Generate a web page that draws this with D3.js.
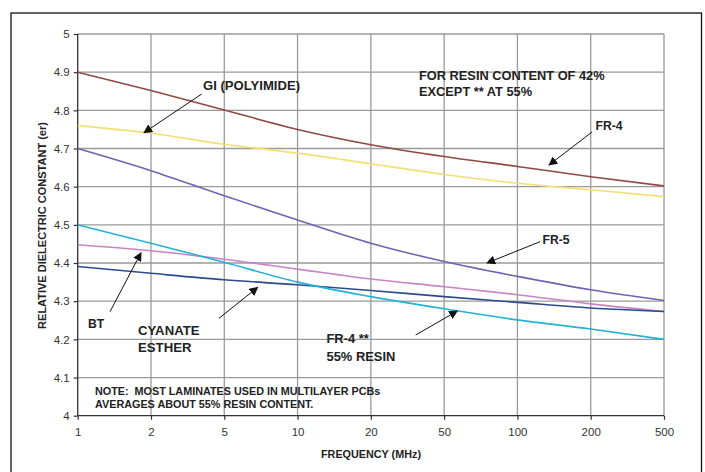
<!DOCTYPE html>
<html>
<head>
<meta charset="utf-8">
<script src="https://cdn.jsdelivr.net/npm/d3@7"></script>
<style>
  body { margin: 0; background: #fff; }
  svg { font-family: "Liberation Sans", Arial, sans-serif; }
</style>
</head>
<body>
<div id="main"></div>
<script>
var freqs = ["1", "2", "5", "10", "20", "50", "100", "200", "500"];
var yTicks = [4, 4.1, 4.2, 4.3, 4.4, 4.5, 4.6, 4.7, 4.8, 4.9, 5];

var fr4 = [4.9, 4.852, 4.801, 4.75, 4.71, 4.679, 4.653, 4.626, 4.602];
var gi = [4.76, 4.74, 4.711, 4.688, 4.66, 4.632, 4.609, 4.592, 4.574];
var fr5 = [4.7, 4.642, 4.576, 4.513, 4.452, 4.404, 4.365, 4.33, 4.302];
var fr4Resin55 = [4.5, 4.452, 4.402, 4.35, 4.312, 4.28, 4.251, 4.227, 4.2];
var bt = [4.448, 4.432, 4.41, 4.384, 4.358, 4.338, 4.317, 4.293, 4.273];
var cyanate = [4.391, 4.373, 4.356, 4.343, 4.328, 4.312, 4.297, 4.282, 4.273];

var series = [
    {name: "GI", values: gi, color: "#f2e070"},
    {name: "FR-4", values: fr4, color: "#8e4a42"},
    {name: "FR-5", values: fr5, color: "#7262b2"},
    {name: "BT", values: bt, color: "#c685c6"},
    {name: "CYANATE", values: cyanate, color: "#2b4b8c"},
    {name: "FR-4 55", values: fr4Resin55, color: "#22b2d2"}
];

var W = 705, H = 472;
var plotLeft = 77.7, plotRight = 664, plotTop = 34, plotBottom = 415.7;

var svg = d3.select("#main").append("svg")
    .attr("width", W).attr("height", H);

svg.append("defs").append("marker")
    .attr("id", "arrow")
    .attr("viewBox", "0 0 10 10")
    .attr("refX", 9).attr("refY", 5)
    .attr("markerWidth", 9).attr("markerHeight", 9)
    .attr("markerUnits", "userSpaceOnUse")
    .attr("orient", "auto")
    .append("path")
    .attr("d", "M0,0 L10,5 L0,10 z")
    .attr("fill", "#111");

// outer frame (bottom edge off the page)
svg.append("rect")
    .attr("x", 11).attr("y", 13)
    .attr("width", 690.5).attr("height", 480)
    .attr("fill", "none").attr("stroke", "#111").attr("stroke-width", 1.3);

var x = d3.scalePoint().domain(freqs).range([plotLeft, plotRight]);
var y = d3.scaleLinear().domain([4, 5]).range([plotBottom, plotTop]);

// grid
svg.append("g").selectAll("line").data(yTicks.slice(1)).enter().append("line")
    .attr("x1", plotLeft).attr("x2", plotRight)
    .attr("y1", function(d) { return y(d); }).attr("y2", function(d) { return y(d); })
    .attr("stroke", "#9a9a9a").attr("stroke-width", 1.3);
svg.append("g").selectAll("line").data(freqs.slice(1)).enter().append("line")
    .attr("x1", function(d) { return x(d); }).attr("x2", function(d) { return x(d); })
    .attr("y1", plotTop).attr("y2", plotBottom)
    .attr("stroke", "#9a9a9a").attr("stroke-width", 1.3);

// axes
var xAxis = svg.append("g")
    .attr("transform", "translate(0," + plotBottom + ")")
    .call(d3.axisBottom(x).tickSize(4).tickPadding(8));
var yAxis = svg.append("g")
    .attr("transform", "translate(" + plotLeft + ",0)")
    .call(d3.axisLeft(y).tickValues(yTicks).tickSize(4).tickPadding(4)
          .tickFormat(function(d) { return d3.format("")(+d.toFixed(1)); }));
[xAxis, yAxis].forEach(function(a) {
    a.select(".domain").attr("stroke", "#333").attr("stroke-width", 1.3);
    a.selectAll(".tick line").attr("stroke", "#333").attr("stroke-width", 1.2);
    a.selectAll("text").attr("fill", "#333").style("font-size", "11.5px")
        .style("font-family", "'Liberation Sans', Arial, sans-serif");
});
xAxis.select(".domain").attr("d", "M" + plotLeft + ",0H" + plotRight);
yAxis.select(".domain").attr("d", "M0," + plotBottom + "V" + plotTop);

// lines
var line = d3.line()
    .x(function(d, i) { return x(freqs[i]); })
    .y(function(d) { return y(d); })
    .curve(d3.curveMonotoneX);

svg.append("g").selectAll("path").data(series).enter().append("path")
    .attr("d", function(d) { return line(d.values); })
    .attr("fill", "none")
    .attr("stroke", function(d) { return d.color; })
    .attr("stroke-width", 1.6);

// axis titles
svg.append("text")
    .attr("x", 371).attr("y", 458)
    .attr("text-anchor", "middle")
    .style("font-size", "10.8px").style("font-weight", "bold")
    .attr("fill", "#222")
    .text("FREQUENCY (MHz)");
svg.append("text")
    .attr("transform", "translate(46,225.5) rotate(-90)")
    .attr("text-anchor", "middle")
    .style("font-size", "11px").style("font-weight", "bold")
    .attr("fill", "#222")
    .text("RELATIVE DIELECTRIC CONSTANT (er)");

// annotations
var labels = [
    {t: "GI (POLYIMIDE)", x: 203, y: 90, s: 13.1},
    {t: "FOR RESIN CONTENT OF 42%", x: 419, y: 79.5, s: 12.8},
    {t: "EXCEPT ** AT 55%", x: 419, y: 96, s: 12.8},
    {t: "FR-4", x: 595.5, y: 130, s: 12.2},
    {t: "FR-5", x: 542.5, y: 243.5, s: 12.2},
    {t: "BT", x: 88, y: 327.5, s: 12.2},
    {t: "CYANATE", x: 138, y: 334.5, s: 13.2},
    {t: "ESTHER", x: 138, y: 351.5, s: 13.2},
    {t: "FR-4 **", x: 326.5, y: 342.5, s: 12.9},
    {t: "55% RESIN", x: 326.5, y: 360.5, s: 12.9},
    {t: "NOTE:  MOST LAMINATES USED IN MULTILAYER PCBs", x: 95, y: 394.5, s: 10.8},
    {t: "AVERAGES ABOUT 55% RESIN CONTENT.", x: 95, y: 408, s: 10.8}
];
svg.append("g").selectAll("text").data(labels).enter().append("text")
    .attr("x", function(d) { return d.x; })
    .attr("y", function(d) { return d.y; })
    .style("font-size", function(d) { return d.s + "px"; })
    .style("font-weight", "bold")
    .style("white-space", "pre")
    .attr("fill", "#222")
    .text(function(d) { return d.t; });

var arrows = [
    [201.7, 94, 144, 132.7],
    [592, 132, 549, 165],
    [540, 241.7, 487, 263],
    [110, 311.7, 141, 252.7],
    [219, 318.3, 257.7, 287.3],
    [415.7, 335, 457.3, 311]
];
svg.append("g").selectAll("line").data(arrows).enter().append("line")
    .attr("x1", function(d) { return d[0]; }).attr("y1", function(d) { return d[1]; })
    .attr("x2", function(d) { return d[2]; }).attr("y2", function(d) { return d[3]; })
    .attr("stroke", "#111").attr("stroke-width", 1)
    .attr("marker-end", "url(#arrow)");
</script>
</body>
</html>
